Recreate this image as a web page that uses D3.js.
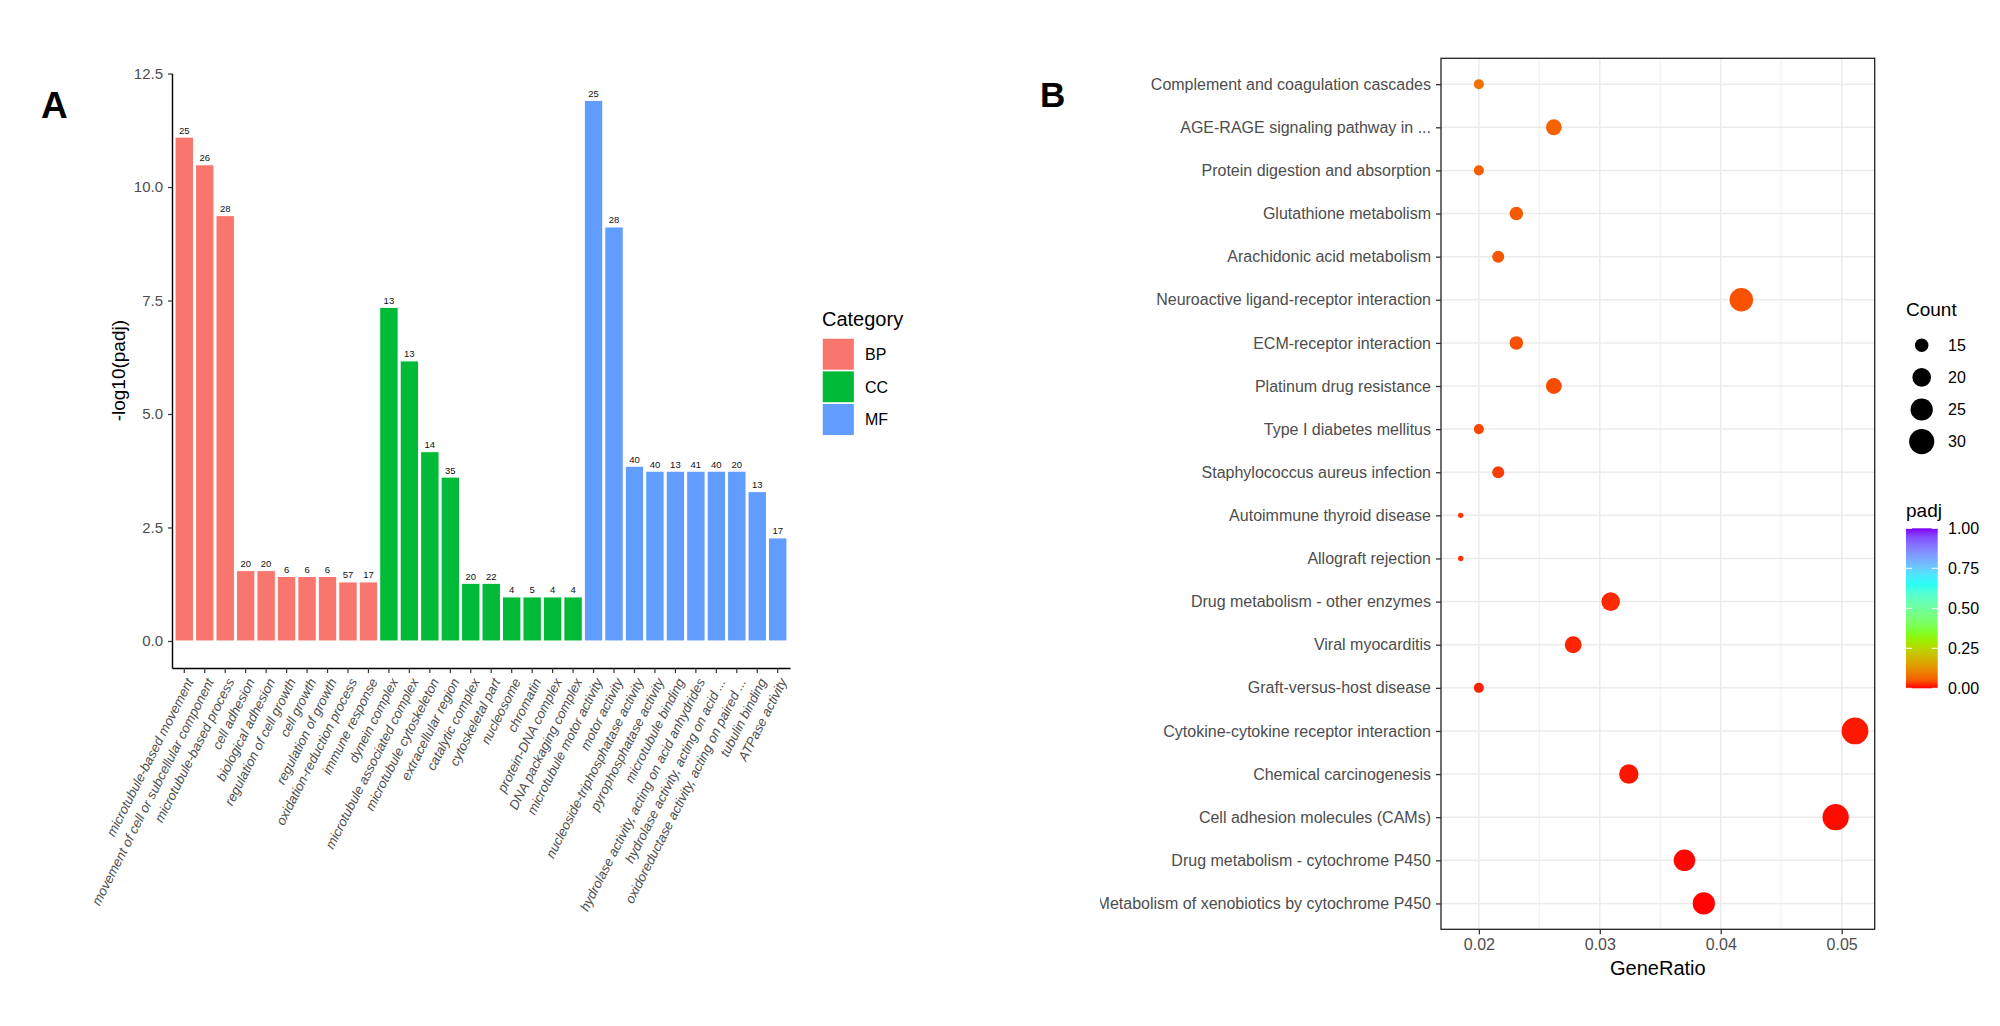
<!DOCTYPE html>
<html>
<head>
<meta charset="utf-8">
<script src="https://cdn.jsdelivr.net/npm/d3@7/dist/d3.min.js"></script>
<style>
  body { margin: 0; background: #fff; }
  svg { font-family: "Liberation Sans", Arial, Helvetica, sans-serif; }
</style>
</head>
<body>
<svg id="fig" width="2000" height="1026"></svg>
<script>
// ---- Panel A: GO enrichment bars ----
const goTerms = [
  "microtubule-based movement", "movement of cell or subcellular component", "microtubule-based process",
  "cell adhesion", "biological adhesion", "regulation of cell growth", "cell growth", "regulation of growth",
  "oxidation-reduction process", "immune response",
  "dynein complex", "microtubule associated complex", "microtubule cytoskeleton", "extracellular region",
  "catalytic complex", "cytoskeletal part", "nucleosome", "chromatin", "protein-DNA complex", "DNA packaging complex",
  "microtubule motor activity", "motor activity", "nucleoside-triphosphatase activity", "pyrophosphatase activity",
  "microtubule binding", "hydrolase activity, acting on acid anhydrides", "hydrolase activity, acting on acid ...",
  "oxidoreductase activity, acting on paired ...", "tubulin binding", "ATPase activity"
];
const goCategory = [
  "BP", "BP", "BP", "BP", "BP", "BP", "BP", "BP", "BP", "BP",
  "CC", "CC", "CC", "CC", "CC", "CC", "CC", "CC", "CC", "CC",
  "MF", "MF", "MF", "MF", "MF", "MF", "MF", "MF", "MF", "MF"
];
const goLogPadj = [
  11.10, 10.49, 9.37, 1.55, 1.55, 1.42, 1.42, 1.42, 1.30, 1.30,
  7.35, 6.17, 4.17, 3.61, 1.27, 1.27, 0.97, 0.97, 0.97, 0.97,
  11.91, 9.12, 3.85, 3.74, 3.74, 3.74, 3.74, 3.74, 3.29, 2.27
];
const goCount = [
  25, 26, 28, 20, 20, 6, 6, 6, 57, 17,
  13, 13, 14, 35, 20, 22, 4, 5, 4, 4,
  25, 28, 40, 40, 13, 41, 40, 20, 13, 17
];
const categoryNames = ["BP", "CC", "MF"];
const categoryColors = ["#F8766D", "#00BA38", "#619CFF"];
const yTicksA = [0, 2.5, 5, 7.5, 10, 12.5];

// ---- Panel B: KEGG dot plot (top row first) ----
const keggTerms = [
  "Complement and coagulation cascades", "AGE-RAGE signaling pathway in ...", "Protein digestion and absorption",
  "Glutathione metabolism", "Arachidonic acid metabolism", "Neuroactive ligand-receptor interaction",
  "ECM-receptor interaction", "Platinum drug resistance", "Type I diabetes mellitus",
  "Staphylococcus aureus infection", "Autoimmune thyroid disease", "Allograft rejection",
  "Drug metabolism - other enzymes", "Viral myocarditis", "Graft-versus-host disease",
  "Cytokine-cytokine receptor interaction", "Chemical carcinogenesis", "Cell adhesion molecules (CAMs)",
  "Drug metabolism - cytochrome P450", "Metabolism of xenobiotics by cytochrome P450"
];
const keggGeneRatio = [
  0.0200, 0.0262, 0.0200, 0.0231, 0.0216, 0.0417, 0.0231, 0.0262, 0.0200, 0.0216,
  0.0185, 0.0185, 0.0309, 0.0278, 0.0200, 0.0511, 0.0324, 0.0495, 0.0370, 0.0386
];
const keggCount = [
  13, 17, 13, 15, 14, 27, 15, 17, 13, 14,
  12, 12, 20, 18, 13, 33, 21, 32, 24, 25
];
const keggPadj = [
  0.080, 0.062, 0.056, 0.050, 0.046, 0.043, 0.040, 0.036, 0.030, 0.025,
  0.020, 0.017, 0.012, 0.010, 0.008, 0.005, 0.004, 0.002, 0.001, 0.0005
];
const ratioTicks = [0.02, 0.03, 0.04, 0.05];
const countBreaks = [15, 20, 25, 30];
const padjBreaks = [0, 0.25, 0.5, 0.75, 1];
const rainbowColors = ["#FF0000", "#80FF00", "#00FFFF", "#8000FF"];

const svg = d3.select("#fig");
const textGrey = "#4D4D4D";

// ================= Panel A =================
const panelA = { left: 172, right: 790, top: 73.3, bottom: 668 };

const xA = d3.scaleBand()
  .domain(goTerms)
  .range([panelA.left, panelA.right])
  .paddingInner(0.1)
  .paddingOuter(0.15);

const maxA = d3.max(goLogPadj);
const yA = d3.scaleLinear()
  .domain([-0.05 * maxA, maxA * 1.05])
  .range([panelA.bottom, panelA.top]);

const colorA = d3.scaleOrdinal().domain(categoryNames).range(categoryColors);

const gA = svg.append("g");

gA.selectAll("rect.bar")
  .data(goTerms)
  .enter()
  .append("rect")
  .attr("class", "bar")
  .attr("x", d => xA(d))
  .attr("width", xA.bandwidth())
  .attr("y", (d, i) => yA(goLogPadj[i]))
  .attr("height", (d, i) => yA(0) - yA(goLogPadj[i]))
  .attr("fill", (d, i) => colorA(goCategory[i]))
  .attr("stroke", "#fff")
  .attr("stroke-width", 1);

gA.selectAll("text.count")
  .data(goTerms)
  .enter()
  .append("text")
  .attr("class", "count")
  .attr("x", d => xA(d) + xA.bandwidth() / 2)
  .attr("y", (d, i) => yA(goLogPadj[i]) - 3.5)
  .attr("text-anchor", "middle")
  .attr("font-size", 9.5)
  .attr("fill", "#111")
  .text((d, i) => goCount[i]);

// y axis
const yAxisA = gA.append("g")
  .attr("transform", "translate(" + panelA.left + ",0)")
  .call(d3.axisLeft(yA).tickValues(yTicksA).tickFormat(d3.format(".1f"))
    .tickSize(4).tickSizeOuter(0).tickPadding(5));
yAxisA.select(".domain").attr("stroke", "#000").attr("stroke-width", 1.4);
yAxisA.selectAll(".tick line").attr("stroke", "#333").attr("stroke-width", 1.2);
yAxisA.selectAll(".tick text").attr("font-size", 15).attr("fill", textGrey).attr("font-family", null);

// x axis
const xAxisA = gA.append("g")
  .attr("transform", "translate(0," + panelA.bottom + ")")
  .call(d3.axisBottom(xA).tickSize(5).tickSizeOuter(0));
xAxisA.select(".domain").attr("stroke", "#000").attr("stroke-width", 1.4);
xAxisA.selectAll(".tick line").attr("stroke", "#333").attr("stroke-width", 1.2);
xAxisA.selectAll(".tick text")
  .attr("font-size", 13.3)
  .attr("font-style", "italic")
  .attr("fill", textGrey)
  .attr("font-family", null)
  .attr("text-anchor", "end")
  .attr("x", 0)
  .attr("y", 0)
  .attr("dy", "0.72em")
  .attr("transform", "translate(1,9) rotate(-63)");

gA.append("text")
  .attr("transform", "translate(118," + ((panelA.top + panelA.bottom) / 2) + ") rotate(-90)")
  .attr("text-anchor", "middle")
  .attr("dy", "0.35em")
  .attr("font-size", 19)
  .attr("fill", "#000")
  .text("-log10(padj)");

// legend A
const legA = gA.append("g").attr("transform", "translate(822,0)");
legA.append("text").attr("x", 0).attr("y", 326).attr("font-size", 20).attr("fill", "#000").text("Category");
categoryNames.forEach((c, i) => {
  legA.append("rect")
    .attr("x", 0).attr("y", 338 + i * 32.6)
    .attr("width", 32.6).attr("height", 32.6)
    .attr("fill", colorA(c)).attr("stroke", "#fff").attr("stroke-width", 1.5);
  legA.append("text")
    .attr("x", 43).attr("y", 338 + i * 32.6 + 16.3)
    .attr("dy", "0.36em")
    .attr("font-size", 16).attr("fill", "#000")
    .text(c);
});

svg.append("text").attr("x", 41).attr("y", 118.3)
  .attr("font-size", 37).attr("font-weight", "bold").attr("fill", "#000").text("A");

// ================= Panel B =================
const panelB = { left: 1441, right: 1874.7, top: 58.3, bottom: 929.3 };

svg.append("defs").append("clipPath").attr("id", "clipB")
  .append("rect").attr("x", 1100).attr("y", 0).attr("width", 900).attr("height", 1026);

const gB = svg.append("g").attr("clip-path", "url(#clipB)");

const ratioExt = d3.extent(keggGeneRatio);
const ratioPad = (ratioExt[1] - ratioExt[0]) * 0.05;
const xB = d3.scaleLinear()
  .domain([ratioExt[0] - ratioPad, ratioExt[1] + ratioPad])
  .range([panelB.left, panelB.right]);

const yB = d3.scalePoint()
  .domain(keggTerms)
  .range([panelB.top, panelB.bottom])
  .padding(0.6);

const colorB = d3.scaleLinear()
  .domain([0, 1 / 3, 2 / 3, 1])
  .range(rainbowColors)
  .interpolate(d3.interpolateLab);

// ggplot-style area scaling: radius grows with sqrt of rescaled count
const countExt = d3.extent(keggCount);
const sizeT = d3.scaleLinear().domain(countExt).range([0, 1]).clamp(true);
const rB = c => 2.7 + (13.4 - 2.7) * Math.sqrt(sizeT(c));

// grid
const minorTicks = ratioTicks.slice(1).map((t, i) => (t + ratioTicks[i]) / 2);
gB.selectAll("line.minor")
  .data(minorTicks).enter().append("line")
  .attr("x1", d => xB(d)).attr("x2", d => xB(d))
  .attr("y1", panelB.top).attr("y2", panelB.bottom)
  .attr("stroke", "#EBEBEB").attr("stroke-width", 0.8);
gB.selectAll("line.vmajor")
  .data(ratioTicks).enter().append("line")
  .attr("x1", d => xB(d)).attr("x2", d => xB(d))
  .attr("y1", panelB.top).attr("y2", panelB.bottom)
  .attr("stroke", "#EBEBEB").attr("stroke-width", 1.5);
gB.selectAll("line.hmajor")
  .data(keggTerms).enter().append("line")
  .attr("x1", panelB.left).attr("x2", panelB.right)
  .attr("y1", d => yB(d)).attr("y2", d => yB(d))
  .attr("stroke", "#EBEBEB").attr("stroke-width", 1.5);

gB.selectAll("circle.pt")
  .data(keggTerms).enter().append("circle")
  .attr("class", "pt")
  .attr("cx", (d, i) => xB(keggGeneRatio[i]))
  .attr("cy", d => yB(d))
  .attr("r", (d, i) => rB(keggCount[i]))
  .attr("fill", (d, i) => colorB(keggPadj[i]));

gB.append("rect")
  .attr("x", panelB.left).attr("y", panelB.top)
  .attr("width", panelB.right - panelB.left).attr("height", panelB.bottom - panelB.top)
  .attr("fill", "none").attr("stroke", "#222").attr("stroke-width", 1.3);

const yAxisB = gB.append("g")
  .attr("transform", "translate(" + panelB.left + ",0)")
  .call(d3.axisLeft(yB).tickSize(5).tickPadding(5));
yAxisB.select(".domain").remove();
yAxisB.selectAll(".tick line").attr("stroke", "#333").attr("stroke-width", 1.3);
yAxisB.selectAll(".tick text").attr("font-size", 16).attr("fill", textGrey).attr("font-family", null);

const xAxisB = gB.append("g")
  .attr("transform", "translate(0," + panelB.bottom + ")")
  .call(d3.axisBottom(xB).tickValues(ratioTicks).tickFormat(d3.format(".2f"))
    .tickSize(5).tickPadding(4));
xAxisB.select(".domain").remove();
xAxisB.selectAll(".tick line").attr("stroke", "#333").attr("stroke-width", 1.3);
xAxisB.selectAll(".tick text").attr("font-size", 16).attr("fill", textGrey).attr("font-family", null);

gB.append("text")
  .attr("x", (panelB.left + panelB.right) / 2).attr("y", 975)
  .attr("text-anchor", "middle").attr("font-size", 20).attr("fill", "#000")
  .text("GeneRatio");

// legend B: Count
const legB = svg.append("g").attr("transform", "translate(1906,0)");
legB.append("text").attr("x", 0).attr("y", 316).attr("font-size", 19).attr("fill", "#000").text("Count");
countBreaks.forEach((c, i) => {
  const cy = 345.3 + i * 32.1;
  legB.append("circle").attr("cx", 15.7).attr("cy", cy).attr("r", rB(c)).attr("fill", "#000");
  legB.append("text").attr("x", 42).attr("y", cy).attr("dy", "0.36em")
    .attr("font-size", 16).attr("fill", "#000").text(c);
});

// legend B: padj colour bar
legB.append("text").attr("x", 0).attr("y", 517).attr("font-size", 19).attr("fill", "#000").text("padj");
const barTop = 528.3, barBottom = 688.3, barW = 31.7;
const grad = svg.select("defs").append("linearGradient")
  .attr("id", "padjGrad").attr("x1", 0).attr("y1", 1).attr("x2", 0).attr("y2", 0);
d3.range(0, 1.0001, 0.05).forEach(t => {
  grad.append("stop").attr("offset", t).attr("stop-color", colorB(t));
});
legB.append("rect").attr("x", 0).attr("y", barTop).attr("width", barW).attr("height", barBottom - barTop)
  .attr("fill", "url(#padjGrad)");
const barScale = d3.scaleLinear().domain([0, 1]).range([barBottom, barTop]);
padjBreaks.forEach(p => {
  const y = barScale(p);
  legB.append("line").attr("x1", 0).attr("x2", 6).attr("y1", y).attr("y2", y)
    .attr("stroke", "#fff").attr("stroke-width", 1);
  legB.append("line").attr("x1", barW - 6).attr("x2", barW).attr("y1", y).attr("y2", y)
    .attr("stroke", "#fff").attr("stroke-width", 1);
  legB.append("text").attr("x", 42).attr("y", y).attr("dy", "0.36em")
    .attr("font-size", 16).attr("fill", "#000").text(d3.format(".2f")(p));
});

svg.append("text").attr("x", 1040).attr("y", 106.7)
  .attr("font-size", 35).attr("font-weight", "bold").attr("fill", "#000").text("B");
</script>
</body>
</html>
